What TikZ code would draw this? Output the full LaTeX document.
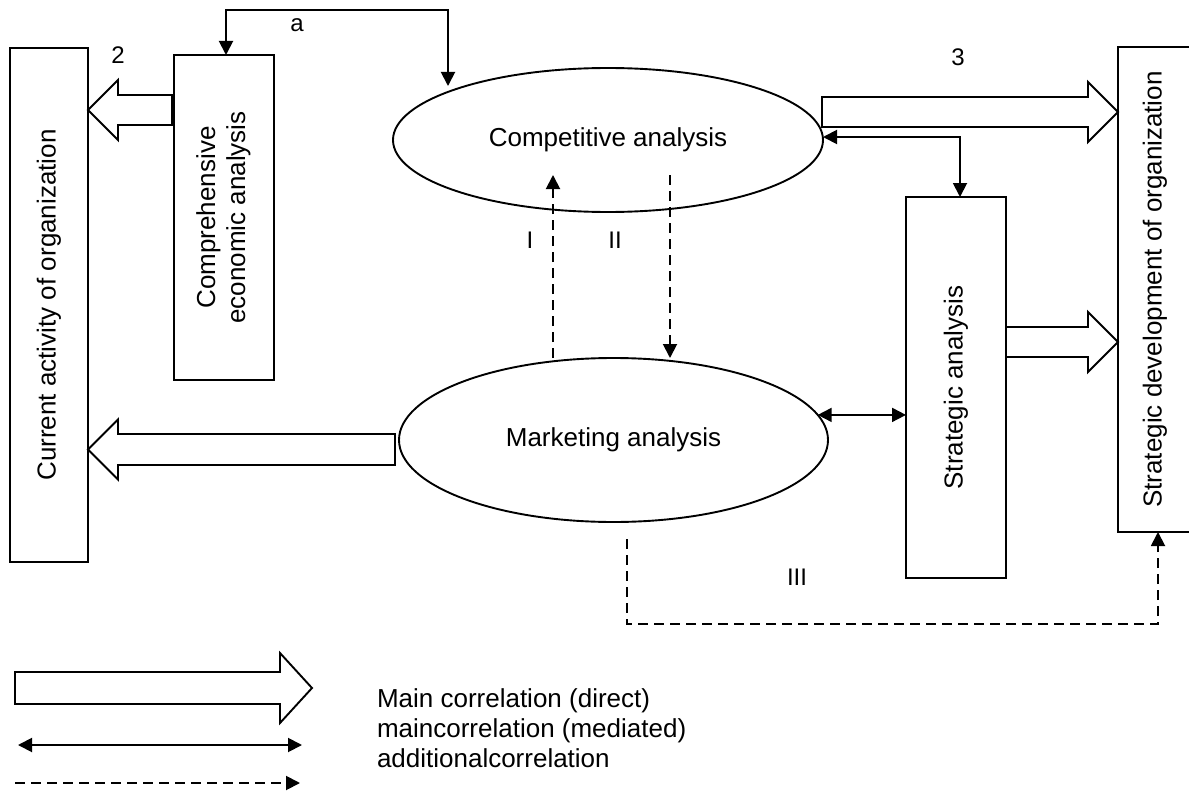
\documentclass[tikz,border=0pt]{standalone}
\usepackage{fontspec}
\setmainfont{Liberation Sans}
\usetikzlibrary{arrows.meta,calc,shapes.geometric}
\newcommand\fatarr[5]{%
  \draw[fat] let \p1=(#1), \p2=(#2) in
    ({\x1},{\y1+#3}) -- ({\x2-(#5)},{\y1+#3}) -- ({\x2-(#5)},{\y1+#4}) -- ({\x2},{\y1})
    -- ({\x2-(#5)},{\y1-#4}) -- ({\x2-(#5)},{\y1-#3}) -- ({\x1},{\y1-#3}) -- cycle;}
\begin{document}
\begin{tikzpicture}[x=1pt,y=-1pt,
  every node/.style={font=\fontsize{26}{30}\selectfont, inner sep=0pt, outer sep=0pt},
  box/.style={draw, line width=1.9pt, rectangle},
  oval/.style={draw, line width=1.9pt, ellipse},
  thinl/.style={line width=1.9pt},
  tip/.style={-{Triangle[length=14pt,width=14pt]}},
  dbl/.style={thinl,{Triangle[length=14pt,width=14pt]}-{Triangle[length=14pt,width=14pt]}},
  dsh/.style={thinl, dash pattern=on 10pt off 6pt},
  fat/.style={draw, line width=1.9pt, fill=white, line join=miter},
  lbl/.style={font=\fontsize{24}{28}\selectfont}
]
\useasboundingbox (0,0) rectangle (1189,792);

% nodes
\node[box, minimum width=78pt, minimum height=514pt] (current) at (49,305)
  {\rotatebox{90}{Current activity of organization}};
\node[box, minimum width=100pt, minimum height=325pt] (comp) at (224,217.5)
  {\rotatebox{90}{\begin{tabular}{@{}c@{}}Comprehensive\\economic analysis\end{tabular}}};
\node[oval, minimum width=430pt, minimum height=144pt] (compet) at (608,140)
  {Competitive analysis};
\node[oval, minimum width=429pt, minimum height=164pt] (market) at (613.5,440)
  {Marketing analysis};
\node[box, minimum width=100pt, minimum height=381pt] (strat) at (956,387.5)
  {\rotatebox{90}{Strategic analysis}};
\node[box, minimum width=74pt, minimum height=485pt] (dev) at (1155,289.5)
  {\rotatebox{90}{Strategic development of organization}};

% fat arrows (main correlation, direct)
\coordinate (c1s) at ($(comp.north west)+(-2,55)$);
\fatarr{c1s}{current.east |- c1s}{15pt}{30pt}{-30pt}
\coordinate (c2s) at ($(market.west)+(-4,9.5)$);
\fatarr{c2s}{current.east |- c2s}{15.5pt}{30pt}{-30pt}
\coordinate (c3s) at ($(compet.east)+(-1,-28)$);
\fatarr{c3s}{dev.west |- c3s}{15pt}{30pt}{30pt}
\coordinate (c4s) at ($(strat.east)+(0,-45.5)$);
\fatarr{c4s}{dev.west |- c4s}{15pt}{30pt}{30pt}

% mediated correlations
\coordinate (aR) at (448,10);
\coordinate (aEnd) at (448,86);
\draw[dbl] (aEnd) -- (aR) -| ($(comp.north)+(2,0)$);
\draw[dbl] ($(compet.east)+(0,-3)$) -| ($(strat.north)+(4,0)$);
\draw[dbl] (market.7) -- (market.7 -| strat.west);

% additional correlations
\coordinate (Iend) at (553,175);
\draw[dsh,tip] (market.north -| Iend) -- (Iend);
\coordinate (IIs) at (670,175);
\draw[dsh,tip] (IIs) -- (IIs |- market.north);
\coordinate (IIIs) at (627,539);
\coordinate (IIIc) at (1158,624);
\draw[dsh,tip] (IIIs) |- (IIIc) -- (IIIc |- dev.south);

% labels
\node[lbl] (l2) at (118,55) {2};
\node[lbl] (la) at (297,25) {a};
\node[lbl] (l3) at (958,57) {3};
\node[lbl] (lI) at (530,240) {I};
\node[lbl] (lII) at (615,240) {II};
\node[lbl] (lIII) at (797,577) {III};

% legend
\coordinate (L1s) at (15,688);
\coordinate (L1e) at (312,688);
\fatarr{L1s}{L1e}{16pt}{35pt}{32pt}
\coordinate (L2s) at (18,745);
\coordinate (L2e) at (302,745);
\draw[dbl] (L2s) -- (L2e);
\coordinate (L3s) at (15,783);
\coordinate (L3e) at (300,783);
\draw[dsh,tip] (L3s) -- (L3e);
\node[anchor=west, align=left] (legtext) at (377,728)
  {Main correlation (direct)\\maincorrelation (mediated)\\additionalcorrelation};
\end{tikzpicture}
\end{document}
